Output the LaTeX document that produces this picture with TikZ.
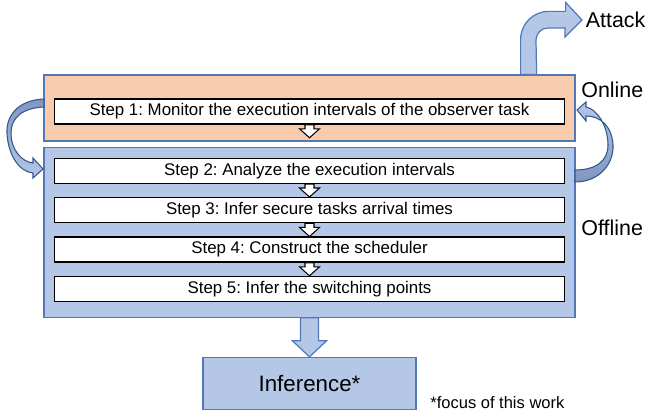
\documentclass[tikz,border=0pt]{standalone}
\usepackage{fontspec}
\setmainfont{Liberation Sans}
\usetikzlibrary{positioning,calc}
\definecolor{boxblue}{RGB}{180,199,231}
\definecolor{boxorange}{RGB}{248,203,173}
\definecolor{edgeblue}{RGB}{82,120,184}
\definecolor{darkblue}{RGB}{52,86,146}
\definecolor{shadeblue}{RGB}{128,150,192}
\frenchspacing

% straight block arrow pointing down: style, from, to, half shaft, half head, head length
\newcommand{\blockdown}[6]{%
  \draw[#1] let \p1=(#2), \p2=(#3) in
    (\x1-#4,\y1) -- (\x1-#4,\y2+#6) -- (\x1-#5,\y2+#6) -- (\x1,\y2)
    -- (\x1+#5,\y2+#6) -- (\x1+#4,\y2+#6) -- (\x1+#4,\y1) -- cycle;}

\begin{document}
\begin{tikzpicture}[x=0.2mm,y=0.2mm,
    stepbox/.style={draw=black,line width=0.8pt,fill=white,minimum width=102mm,minimum height=5mm,inner sep=0pt,font=\fontsize{9.6}{11}\selectfont},
    phase/.style={draw=edgeblue,line width=0.7pt,minimum width=106.2mm},
    lbl/.style={anchor=west,inner sep=0pt,font=\fontsize{12.2}{14}\selectfont},
    smallarrow/.style={draw=black,line width=0.6pt,fill=white},
    bigarrow/.style={draw=edgeblue,line width=0.7pt,fill=boxblue},
    curl/.style={draw=darkblue,line width=0.6pt}]
  \useasboundingbox (0,0) rectangle (650,418);

  % the two phases
  \node[phase,fill=boxorange,minimum height=13.2mm] (online) at (309.5,310) {};
  \node[phase,fill=boxblue,minimum height=34mm,below=1mm of online] (offline) {};

  % steps
  \node[stepbox,below=4.8mm of online.north] (s1) {Step 1: Monitor the execution intervals of the observer task};
  \node[stepbox,below=2.2mm of offline.north] (s2) {Step 2: Analyze the execution intervals};
  \node[stepbox,below=2.6mm of s2] (s3) {Step 3: Infer secure tasks arrival times};
  \node[stepbox,below=2.6mm of s3] (s4) {Step 4: Construct the scheduler};
  \node[stepbox,below=2.6mm of s4] (s5) {Step 5: Infer the switching points};

  \node[phase,fill=boxblue,minimum width=42.6mm,minimum height=10.4mm,below=7.8mm of offline,font=\fontsize{12.7}{15}\selectfont] (infer) {Inference*};

  % side labels
  \node[lbl] (onl) at (581,328) {Online};
  \node[lbl] (offl) at (581,190) {Offline};
  \node[lbl,inner sep=0.7mm] (attack) at (582,398) {Attack};
  \node[lbl,font=\fontsize{9.4}{11}\selectfont] (note) at (430,15) {*focus of this work};

  % arrows between steps
  \coordinate[below=2.6mm of s1.south] (s1tip);
  \blockdown{smallarrow}{s1.south}{s1tip}{0.9mm}{2mm}{1.8mm}
  \foreach \a/\b in {s2/s3,s3/s4,s4/s5}
    {\blockdown{smallarrow}{\a.south}{\b.north}{0.9mm}{2mm}{1.8mm}}
  \blockdown{bigarrow}{offline.south}{infer.north}{1.8mm}{3.4mm}{3.2mm}

  % bent arrow up to the attack
  \coordinate (atk) at ($(online.north east)+(-47,0)$);
  \draw[bigarrow] ($(atk)+(-8,0)$) -- ++(0,35) arc[start angle=180,end angle=90,radius=28]
    -- ++(17,0) -- ++(0,9) -- (attack.west) -- ++(-17,-17) -- ++(0,9) -- ++(-17,0)
    arc[start angle=90,end angle=180,radius=12] -- ($(atk)+(8,0)$) -- cycle;

  % curved arrows online -> offline (left) and offline -> online (right)
  \draw[curl,top color=shadeblue,bottom color=boxblue]
    (44,319) .. controls (18,318) and (6,302) .. (7,285)
    .. controls (8,262) and (20,246) .. (33,245) -- (33,240) -- (43,249) -- (33,260) -- (33,255)
    .. controls (22,256) and (11,268) .. (11,285)
    .. controls (11,300) and (22,310) .. (44,311) -- cycle;
  \draw[curl,top color=boxblue,bottom color=shadeblue]
    (575,236) .. controls (600,236) and (614,255) .. (613,273)
    .. controls (612,292) and (600,302) .. (586,302) -- (586,297) -- (577,308) -- (586,316) -- (586,311)
    .. controls (597,309) and (608,292) .. (608,273)
    .. controls (608,257) and (596,248) .. (575,248) -- cycle;
\end{tikzpicture}
\end{document}
